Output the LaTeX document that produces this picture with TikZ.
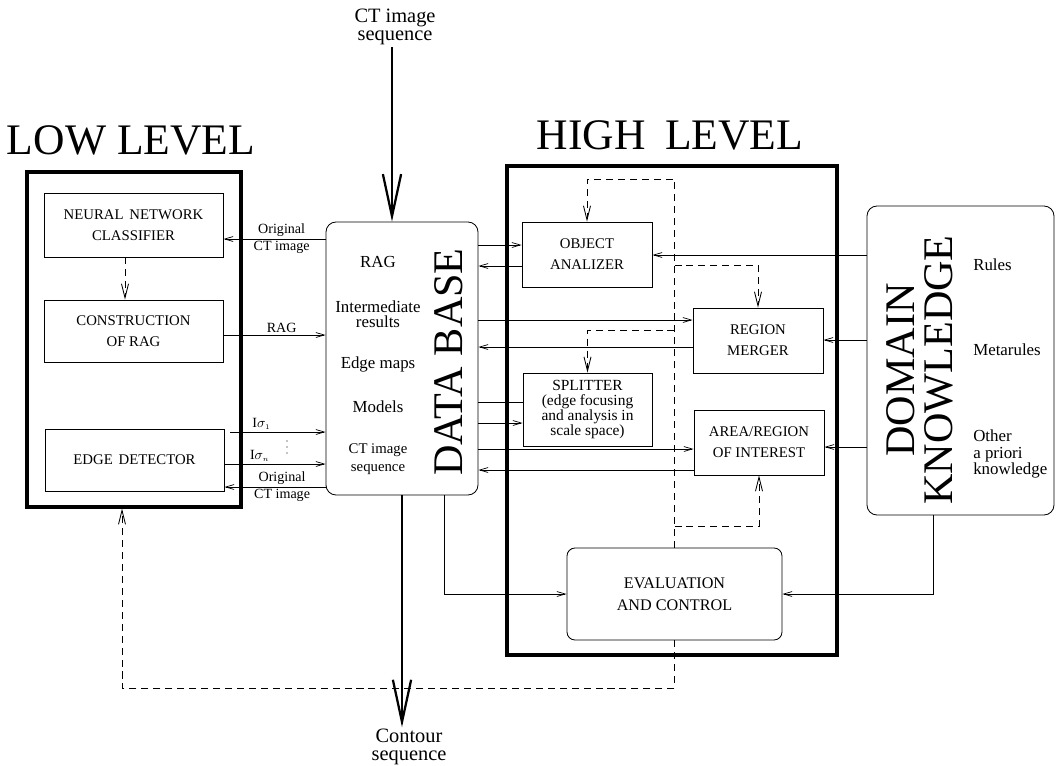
\documentclass[tikz,border=0pt]{standalone}
\usepackage{fontspec}
\setmainfont{Liberation Serif}
\usetikzlibrary{arrows.meta}
\newcommand{\pw}{0.025cm}

\begin{document}
\begin{tikzpicture}[x=0.025cm, y=-0.025cm,
    box/.style={draw, line width=0.6pt, inner sep=0pt, align=center,
      font=\fontsize{10.5}{15}\selectfont},
    thickbox/.style={draw, line width=2.2pt, inner sep=0pt},
    roundbox/.style={draw, line width=0.6pt, inner sep=0pt, rounded corners=0.25cm},
    lbl/.style={inner sep=1.5pt, font=\fontsize{10}{11}\selectfont},
    dbtxt/.style={align=center, inner sep=0pt, font=\fontsize{12}{11}\selectfont},
    bigtxt/.style={inner sep=0pt, font=\fontsize{31}{31}\selectfont},
    endtxt/.style={align=center, inner sep=1pt, font=\fontsize{14.5}{13}\selectfont},
    conn/.style={line width=0.5pt, -{Straight Barb[length=6pt,width=3.5pt]}},
    plain/.style={line width=0.5pt},
    ctrl/.style={line width=0.6pt, dash pattern=on 5pt off 3.5pt,
      -{Straight Barb[length=10pt,width=5pt]}},
    bigarrow/.style={line width=1.6pt, -{Straight Barb[length=30pt,width=13pt]}}
  ]
    \useasboundingbox (0,0) rectangle (1057,765);

    \node[bigtxt] (lowtitle) at (131,140) {LOW LEVEL};
    \node[bigtxt] (hightitle) at (670,135) {HIGH\hspace{0.2em} LEVEL};

    \node[thickbox, minimum width=214*\pw, minimum height=335*\pw] (low) at (134,339.5) {};
    \node[box, minimum width=179*\pw, minimum height=64*\pw] (nnc) at (133.5,225)
      {NEURAL\hspace{0.15em} NETWORK\\CLASSIFIER};
    \node[box, minimum width=179*\pw, minimum height=62*\pw] (rag) at (133.5,331)
      {CONSTRUCTION\\OF RAG};
    \node[box, minimum width=179*\pw, minimum height=62*\pw] (edge) at (134.5,460)
      {EDGE\hspace{0.15em} DETECTOR};
    \draw[ctrl] (nnc.south -| 125,0) -- (rag.north -| 125,0);

    \node[roundbox, minimum width=152*\pw, minimum height=273*\pw] (db) at (402,358.5) {};
    \node[dbtxt] (dbrag) at (378,262) {RAG};
    \node[dbtxt] (dbint) at (378,314) {Intermediate\\results};
    \node[dbtxt] (dbedge) at (378,364) {Edge maps};
    \node[dbtxt] (dbmod) at (378,407) {Models};
    \node[dbtxt, font=\fontsize{10.5}{13}\selectfont] (dbseq) at (378,459) {CT image\\sequence};
    \node[bigtxt, rotate=90, font=\fontsize{30}{30}\selectfont] (dbname) at (449,362) {DATA BASE};

    \node[endtxt] (ctin) at (395,27) {CT image\\sequence};
    \draw[bigarrow] (ctin.south -| 392,0) -- (db.north -| 392,0);
    \node[endtxt] (ctout) at (409,747) {Contour\\sequence};
    \draw[bigarrow] (db.south -| 402,0) -- (ctout.north -| 402,0);

    \draw[conn] (db.west |- 0,239) -- (nnc.east |- 0,239)
      node[lbl, pos=0.43, above] (orig1) {Original}
      node[lbl, pos=0.43, below] (ct1) {CT image};
    \draw[conn] (rag.east |- 0,335) -- (db.west |- 0,335)
      node[lbl, pos=0.57, above] (lrag) {RAG};
    \coordinate (s1) at (230,432);
    \draw[conn] (s1) -- (db.west |- s1)
      node[lbl, pos=0.33, above] (ls1) {I$\sigma_{\scriptscriptstyle 1}$};
    \draw[conn] (edge.east |- 0,464) -- (db.west |- 0,464)
      node[lbl, pos=0.35, above] (lsn) {I$\sigma_{\scriptscriptstyle n}$};
    \foreach \yy in {441,447,453}
      \fill (287,\yy) circle (0.45pt);
    \draw[conn] (db.west |- 0,487) -- (edge.east |- 0,487)
      node[lbl, pos=0.43, above] (orig2) {Original}
      node[lbl, pos=0.43, below] (ct2) {CT image};

    \node[thickbox, minimum width=330*\pw, minimum height=489*\pw] (high) at (672,410.5) {};
    \node[box, minimum width=130*\pw, minimum height=65*\pw] (oa) at (587,254.5)
      {OBJECT\\ANALIZER};
    \node[box, minimum width=130*\pw, minimum height=65*\pw] (rm) at (758,340.5)
      {REGION\\MERGER};
    \node[box, minimum width=129*\pw, minimum height=73*\pw,
      font=\fontsize{11}{10.5}\selectfont] (sp) at (587.5,409.5)
      {SPLITTER\\(edge focusing\\and analysis in\\scale space)};
    \node[box, minimum width=130*\pw, minimum height=65*\pw] (aoi) at (759,442.5)
      {AREA/REGION\\OF INTEREST};
    \node[box, rounded corners=0.2cm, minimum width=215*\pw, minimum height=92*\pw,
      font=\fontsize{11.5}{15.5}\selectfont] (ec) at (674.5,594)
      {EVALUATION\\AND CONTROL};

    \draw[conn] (db.east |- 0,245) -- (oa.west |- 0,245);
    \draw[conn] (oa.west |- 0,266) -- (db.east |- 0,266);
    \draw[conn] (db.east |- 0,320) -- (rm.west |- 0,320);
    \draw[conn] (rm.west |- 0,347) -- (db.east |- 0,347);
    \draw[plain] (db.east |- 0,402) -- (sp.west |- 0,402);
    \draw[conn] (db.east |- 0,423) -- (sp.west |- 0,423);
    \draw[conn] (db.east |- 0,449) -- (aoi.west |- 0,449);
    \draw[conn] (aoi.west |- 0,470) -- (db.east |- 0,470);
    \draw[conn] (db.south -| 444,0) |- (ec.west);

    \draw[ctrl] (ec.north) -- (ec.north |- 0,179) -| (oa.north);
    \draw[ctrl] (ec.north |- 0,265) -| (rm.north);
    \draw[ctrl] (ec.north |- 0,330) -| (sp.north);
    \draw[ctrl] (ec.north |- 0,526) -| (aoi.south);
    \coordinate (fb) at (122,688);
    \draw[ctrl] (ec.south) |- (fb) -- (fb |- low.south);

    \node[roundbox, minimum width=187*\pw, minimum height=309*\pw] (dk) at (960.5,360.5) {};
    \node[bigtxt, rotate=90, align=center, font=\fontsize{30}{27}\selectfont] (dkname)
      at (920,370) {DOMAIN\\KNOWLEDGE};
    \node[dbtxt, anchor=west] (rules) at (973,265) {Rules};
    \node[dbtxt, anchor=west] (meta) at (973,350) {Metarules};
    \node[dbtxt, anchor=west, align=left, font=\fontsize{12}{11.5}\selectfont] (other)
      at (973,454) {Other\\a priori\\knowledge};

    \draw[conn] (dk.west |- 0,255) -- (oa.east |- 0,255);
    \draw[conn] (dk.west |- 0,340) -- (rm.east |- 0,340);
    \draw[conn] (dk.west |- 0,447) -- (aoi.east |- 0,447);
    \draw[conn] (dk.south -| 933,0) |- (ec.east);
\end{tikzpicture}
\end{document}
